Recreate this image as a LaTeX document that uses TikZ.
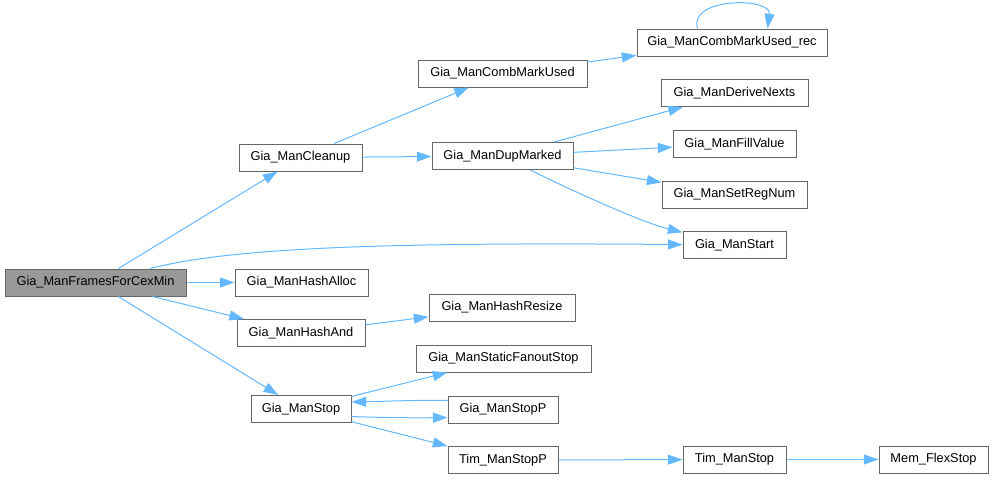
\documentclass[tikz,border=0pt]{standalone}
\usepackage{fontspec}
\setmainfont{Liberation Sans}
\usetikzlibrary{arrows.meta,calc}
\definecolor{edgec}{HTML}{63B8FF}
\definecolor{boxc}{HTML}{666666}
\definecolor{mainc}{HTML}{999999}
\begin{document}
\begin{tikzpicture}[x=0.75pt,y=-0.75pt,
  box/.style={draw=boxc,fill=white,line width=0.75pt,inner sep=0pt,
    minimum height=27*0.75pt,font=\fontsize{9.6}{11.5}\selectfont,text=black},
  bw/.style={minimum width=#1*0.75pt},
  call/.style={draw=edgec,line width=0.75pt,-{Triangle[length=11pt,width=7.5pt]}}]
\useasboundingbox (0,0) rectangle (994,479);
\node[box,bw=181,fill=mainc] (main) at (95.5,282.5) {Gia\_ManFramesForCexMin};
\node[box,bw=133] (alloc) at (301.5,282.5) {Gia\_ManHashAlloc};
\node[box,bw=128] (hand) at (301,333) {Gia\_ManHashAnd};
\node[box,bw=123] (clean) at (300.5,157.5) {Gia\_ManCleanup};
\node[box,bw=169] (comb) at (502.5,73.5) {Gia\_ManCombMarkUsed};
\node[box,bw=190] (rec) at (732,42.5) {Gia\_ManCombMarkUsed\_rec};
\node[box,bw=141] (dup) at (502.5,156) {Gia\_ManDupMarked};
\node[box,bw=147] (derive) at (734.5,93) {Gia\_ManDeriveNexts};
\node[box,bw=123] (fill) at (734.5,144) {Gia\_ManFillValue};
\node[box,bw=145] (setreg) at (734.5,194.5) {Gia\_ManSetRegNum};
\node[box,bw=103] (start) at (734.5,245) {Gia\_ManStart};
\node[box,bw=146] (resize) at (502,307.5) {Gia\_ManHashResize};
\node[box,bw=100] (stop) at (301,409) {Gia\_ManStop};
\node[box,bw=175] (static) at (503.5,358.5) {Gia\_ManStaticFanoutStop};
\node[box,bw=110] (stopp) at (503,409.5) {Gia\_ManStopP};
\node[box,bw=110] (timp) at (503,460) {Tim\_ManStopP};
\node[box,bw=103] (tim) at (734.5,459.5) {Tim\_ManStop};
\node[box,bw=109] (mem) at (933.5,459.5) {Mem\_FlexStop};

\draw[call] (main) -- (clean);
\draw[call] (main) .. controls (230,248) and (380,242) .. (start);
\draw[call] (main) -- (alloc);
\draw[call] (main) -- (hand);
\draw[call] (main) -- (stop);
\draw[call] (clean) -- (comb);
\draw[call] (clean) -- (dup);
\draw[call] (comb) -- (rec);
\coordinate (rl) at ($(rec.north west)+(61,0)$);
\coordinate (rr) at ($(rec.north west)+(131,0)$);
\draw[call] (rl) .. controls (688,-3) and (772,-3) .. (rr);
\draw[call] (dup) -- (derive);
\draw[call] (dup) -- (fill);
\draw[call] (dup) -- (setreg);
\draw[call] (dup) .. controls (560,185) and (640,222) .. (start);
\draw[call] (hand) -- (resize);
\draw[call] (stop) -- (static);
\draw[call] ($(stopp.west)+(0,-9)$) .. controls (410,400) and (380,401.5) .. ($(stop.east)+(0,-7)$);
\draw[call] ($(stop.east)+(0,7.5)$) .. controls (380,417.5) and (410,418) .. ($(stopp.west)+(0,8)$);
\draw[call] (stop) -- (timp);
\draw[call] (timp) -- (tim);
\draw[call] (tim) -- (mem);
\end{tikzpicture}
\end{document}
